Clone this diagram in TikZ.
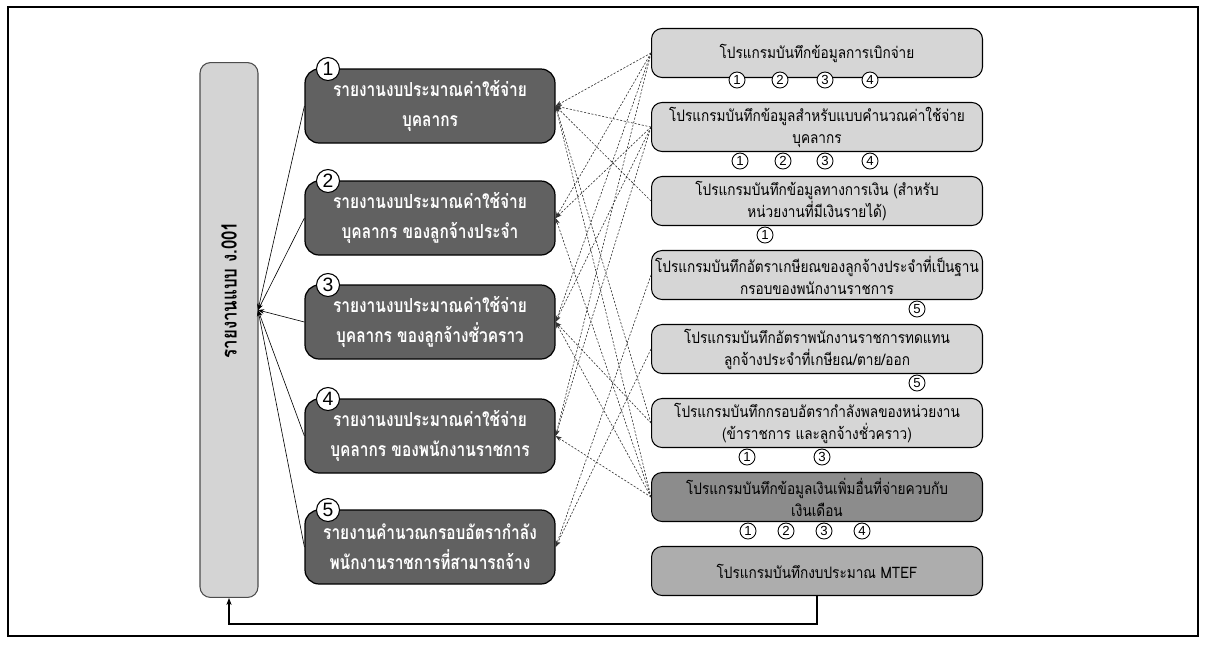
\documentclass[tikz,border=0pt]{standalone}
\usepackage{fontspec}
\newfontfamily\thaicond[Script=Thai, FakeStretch=0.8]{Loma}
\newfontfamily\thainarrow[Script=Thai, FakeStretch=0.86]{Loma}
\newfontfamily\digitfont{Liberation Sans}
\usetikzlibrary{arrows.meta}
\tikzset{
  frame/.style={draw=black, line width=0.6pt},
  total/.style={draw=black!70, line width=0.6pt, rounded corners=6pt, fill=black!17,
    minimum width=1.16cm, minimum height=10.7cm, inner sep=0pt},
  totaltext/.style={font=\thaicond\bfseries\fontsize{12}{14}\selectfont, rotate=90, inner sep=0pt},
  report/.style={draw=black, line width=0.7pt, rounded corners=8pt, fill=black!62,
    text=white, font=\thaicond\bfseries\fontsize{11}{17}\selectfont, align=center,
    minimum width=5.0cm, minimum height=1.48cm, inner sep=0pt},
  prog/.style={draw=black, line width=0.6pt, rounded corners=6pt, fill=black!16,
    text=black, font=\thainarrow\fontsize{9}{12.5}\selectfont, align=center,
    minimum width=6.62cm, minimum height=0.98cm, inner sep=0pt},
  progdark/.style={prog, fill=black!45},
  progmid/.style={prog, fill=black!32},
  bignum/.style={circle, draw=black, line width=0.6pt, fill=white, inner sep=0pt,
    minimum size=0.46cm, font=\digitfont\fontsize{11}{11}\selectfont},
  smallnum/.style={circle, draw=black, line width=0.5pt, fill=white, inner sep=0pt,
    minimum size=0.32cm, font=\digitfont\fontsize{7.5}{7.5}\selectfont},
  feed/.style={draw=black!80, line width=0.35pt, dash pattern=on 1.2pt off 0.9pt,
    -{Stealth[length=3.5pt,width=2.6pt]}},
  gather/.style={draw=black, line width=0.35pt, -{Stealth[length=3.5pt,width=2.6pt]}},
  back/.style={draw=black, line width=0.6pt, -{Stealth[length=4pt,width=3pt]}},
}
\begin{document}
\begin{tikzpicture}[x=0.02cm, y=-0.02cm]
  \useasboundingbox (0,0) rectangle (1206,654);
  \draw[frame] (8,7) rectangle (1198,636);

  % summary report on the left
  \node[total] (total) at (229,330) {};
  \node[totaltext] (totaltxt) at (229,290) {รายงานแบบ ง.001};
  \coordinate (hub) at (258,310);

  % five budget reports
  \node[report] (m1) at (430,106) {รายงานงบประมาณค่าใช้จ่าย\\บุคลากร};
  \node[report] (m2) at (430,218) {รายงานงบประมาณค่าใช้จ่าย\\บุคลากร ของลูกจ้างประจำ};
  \node[report] (m3) at (430,322) {รายงานงบประมาณค่าใช้จ่าย\\บุคลากร ของลูกจ้างชั่วคราว};
  \node[report] (m4) at (430,436) {รายงานงบประมาณค่าใช้จ่าย\\บุคลากร ของพนักงานราชการ};
  \node[report] (m5) at (430,547) {รายงานคำนวณกรอบอัตรากำลัง\\พนักงานราชการที่สามารถจ้าง};
  \node[bignum] (n1) at (328,69)  {1};
  \node[bignum] (n2) at (328,181) {2};
  \node[bignum] (n3) at (328,285) {3};
  \node[bignum] (n4) at (328,399) {4};
  \node[bignum] (n5) at (328,510) {5};

  % data-entry programs
  \node[prog] (ra) at (817,53)  {โปรแกรมบันทึกข้อมูลการเบิกจ่าย};
  \node[prog] (rb) at (817,127) {โปรแกรมบันทึกข้อมูลสำหรับแบบคำนวณค่าใช้จ่าย\\บุคลากร};
  \node[prog] (rc) at (817,201) {โปรแกรมบันทึกข้อมูลทางการเงิน (สำหรับ\\หน่วยงานที่มีเงินรายได้)};
  \node[prog] (rd) at (817,275) {โปรแกรมบันทึกอัตราเกษียณของลูกจ้างประจำที่เป็นฐาน\\กรอบของพนักงานราชการ};
  \node[prog] (re) at (817,349) {โปรแกรมบันทึกอัตราพนักงานราชการทดแทน\\ลูกจ้างประจำที่เกษียณ/ตาย/ออก};
  \node[prog] (rf) at (817,423) {โปรแกรมบันทึกกรอบอัตรากำลังพลของหน่วยงาน\\(ข้าราชการ และลูกจ้างชั่วคราว)};
  \node[progdark] (rg) at (817,497) {โปรแกรมบันทึกข้อมูลเงินเพิ่มอื่นที่จ่ายควบกับ\\เงินเดือน};
  \node[progmid] (rh) at (817,571) {โปรแกรมบันทึกงบประมาณ MTEF};

  % report numbers fed by each program
  \node[smallnum] (ra1) at (737,80) {1};
  \node[smallnum] (ra2) at (780,80) {2};
  \node[smallnum] (ra3) at (825,80) {3};
  \node[smallnum] (ra4) at (870,80) {4};
  \node[smallnum] (rb1) at (740,161) {1};
  \node[smallnum] (rb2) at (783,161) {2};
  \node[smallnum] (rb3) at (825,161) {3};
  \node[smallnum] (rb4) at (870,161) {4};
  \node[smallnum] (rc1) at (765,235) {1};
  \node[smallnum] (rd5) at (917,309) {5};
  \node[smallnum] (re5) at (917,383) {5};
  \node[smallnum] (rf1) at (747,457) {1};
  \node[smallnum] (rf3) at (822,457) {3};
  \node[smallnum] (rg1) at (748,531) {1};
  \node[smallnum] (rg2) at (786,531) {2};
  \node[smallnum] (rg3) at (824,531) {3};
  \node[smallnum] (rg4) at (862,531) {4};

  % reports gathered into the summary
  \foreach \m in {m1,m2,m3,m4,m5}
    \draw[gather] (\m.west) -- (hub);

  % programs feeding the reports
  \foreach \r/\m in {ra/m1,ra/m2,ra/m3,ra/m4,
                     rb/m1,rb/m2,rb/m3,rb/m4,
                     rc/m1,rd/m5,re/m5,rf/m1,rf/m3,
                     rg/m1,rg/m2,rg/m3,rg/m4}
    \draw[feed] (\r.west) -- (\m.east);

  % MTEF budget back to the summary
  \coordinate (b1) at (817,624);
  \coordinate (b2) at (229,624);
  \draw[back] (rh.south) -- (b1) -- (b2) -- (total.south);
\end{tikzpicture}
\end{document}
